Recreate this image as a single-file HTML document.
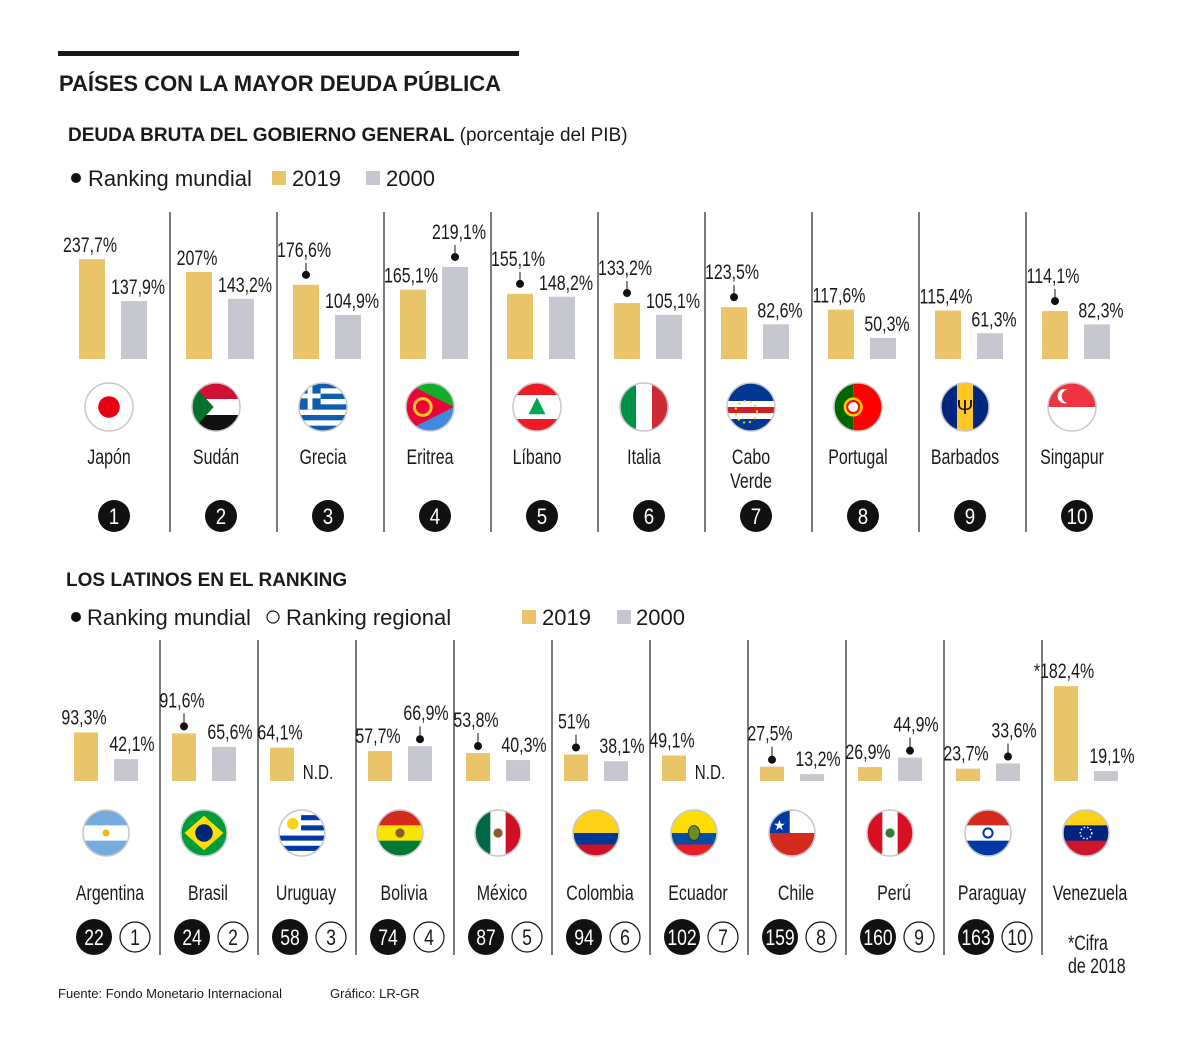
<!DOCTYPE html>
<html><head><meta charset="utf-8"><style>
body{margin:0;background:#fff}
svg text{font-family:"Liberation Sans Narrow","Liberation Sans",sans-serif;fill:#1a1a1a}
.b{font-family:"Liberation Sans",sans-serif;font-weight:bold}
</style></head><body>
<svg id="c" width="1200" height="1051" viewBox="0 0 1200 1051" xmlns="http://www.w3.org/2000/svg">
<rect x="58" y="51" width="461" height="5" fill="#1a1a1a"/>
<text x="59" y="91" class="b" font-size="22">PAÍSES CON LA MAYOR DEUDA PÚBLICA</text>
<text x="68" y="141" font-size="20"><tspan class="b" font-size="19">DEUDA BRUTA DEL GOBIERNO GENERAL</tspan><tspan font-family="Liberation Sans" font-size="19"> (porcentaje del PIB)</tspan></text>
<g>
<circle cx="76" cy="178" r="5" fill="#111"/><text x="88" y="186" font-size="22">Ranking mundial</text>
<rect x="272" y="171" width="14" height="14" fill="#e9c46a"/><text x="292" y="186" font-size="22">2019</text>
<rect x="366" y="171" width="14" height="14" fill="#c7c7cf"/><text x="386" y="186" font-size="22">2000</text>
</g>
<text x="66" y="586" class="b" font-size="19">LOS LATINOS EN EL RANKING</text>
<g>
<circle cx="76" cy="617" r="5" fill="#111"/><text x="87" y="625" font-size="22">Ranking mundial</text>
<circle cx="273" cy="617" r="6" fill="#fff" stroke="#111" stroke-width="1.2"/><text x="286" y="625" font-size="22">Ranking regional</text>
<rect x="522" y="610" width="14" height="14" fill="#e9c46a"/><text x="542" y="625" font-size="22">2019</text>
<rect x="617" y="610" width="14" height="14" fill="#c7c7cf"/><text x="636" y="625" font-size="22">2000</text>
</g>
<text x="58" y="998" font-family="Liberation Sans" font-size="13">Fuente: Fondo Monetario Internacional</text>
<text x="330" y="998" font-family="Liberation Sans" font-size="13">Gráfico: LR-GR</text>
<text transform="translate(1068,950) scale(0.76,1)" font-size="21">*Cifra</text>
<text transform="translate(1068,973) scale(0.76,1)" font-size="21">de 2018</text>
</svg>
<script>
const topNames=["Japón","Sudán","Grecia","Eritrea","Líbano","Italia","Cabo Verde","Portugal","Barbados","Singapur"];
const top2019=[237.7,207,176.6,165.1,155.1,133.2,123.5,117.6,115.4,114.1];
const top2000=[137.9,143.2,104.9,219.1,148.2,105.1,82.6,50.3,61.3,82.3];
const topRank=[1,2,3,4,5,6,7,8,9,10];
const topDot=["","","2019","2000","2019","2019","2019","","","2019"];
const topFlags=["jp","sd","gr","er","lb","it","cv","pt","bb","sg"];
const latNames=["Argentina","Brasil","Uruguay","Bolivia","México","Colombia","Ecuador","Chile","Perú","Paraguay","Venezuela"];
const lat2019=[93.3,91.6,64.1,57.7,53.8,51,49.1,27.5,26.9,23.7,182.4];
const lat2000=[42.1,65.6,null,66.9,40.3,38.1,null,13.2,44.9,33.6,19.1];
const latWorld=[22,24,58,74,87,94,102,159,160,163,null];
const latRegional=[1,2,3,4,5,6,7,8,9,10,null];
const latDot=["","2019","","2000","2019","2019","","2019","2000","2000",""];
const latFlags=["ar","br","uy","bo","mx","co","ec","cl","pe","py","ve"];
const lat2019Labels=["93,3%","91,6%","64,1%","57,7%","53,8%","51%","49,1%","27,5%","26,9%","23,7%","*182,4%"];

const svg=document.getElementById('c');const NS="http://www.w3.org/2000/svg";
function el(t,a,p){const e=document.createElementNS(NS,t);for(const k in a)e.setAttribute(k,a[k]);(p||svg).appendChild(e);return e;}
function fmt(v){return String(v).replace('.',',')+'%';}
let fid=0;
function flag(cx,cy,r,type,g){
  const id='cl'+(fid++);
  const d=el('defs',{},g);const cp=el('clipPath',{id:id},d);el('circle',{cx:cx,cy:cy,r:r},cp);
  const f=el('g',{'clip-path':'url(#'+id+')'},g);
  const x0=cx-r,y0=cy-r,w=2*r;
  const H=(cols)=>{cols.forEach((c,i)=>{const h=w/cols.length;el('rect',{x:x0,y:y0+i*h,width:w,height:h+0.5,fill:c},f);});};
  const V=(cols)=>{cols.forEach((c,i)=>el('rect',{x:x0+i*w/cols.length,y:y0,width:w/cols.length+0.5,height:w,fill:c},f));};
  switch(type){
    case 'jp':H(['#fff']);el('circle',{cx:cx,cy:cy,r:r*0.45,fill:'#e60012'},f);break;
    case 'sd':H(['#d21034','#fff','#111']);el('polygon',{points:`${x0},${y0} ${x0+w*0.45},${cy} ${x0},${y0+w}`,fill:'#007229'},f);break;
    case 'gr':H(['#0d5eaf','#fff','#0d5eaf','#fff','#0d5eaf','#fff','#0d5eaf','#fff','#0d5eaf']);el('rect',{x:x0,y:y0,width:w*0.45,height:w*0.55,fill:'#0d5eaf'},f);el('rect',{x:x0,y:y0+w*0.22,width:w*0.45,height:w*0.1,fill:'#fff'},f);el('rect',{x:x0+w*0.18,y:y0,width:w*0.1,height:w*0.55,fill:'#fff'},f);break;
    case 'er':H(['#12ad2b','#4189dd']);el('polygon',{points:`${x0},${y0} ${x0+w},${cy} ${x0},${y0+w}`,fill:'#ea0437'},f);el('circle',{cx:cx-r*0.3,cy:cy,r:r*0.35,fill:'none',stroke:'#ffc726',"stroke-width":3},f);break;
    case 'lb':H(['#ed1c24','#fff','#fff','#ed1c24']);el('polygon',{points:`${cx},${cy-r*0.4} ${cx+r*0.35},${cy+r*0.3} ${cx-r*0.35},${cy+r*0.3}`,fill:'#00a651'},f);break;
    case 'it':V(['#009246','#fff','#ce2b37']);break;
    case 'cv':H(['#003893','#003893','#003893','#fff','#cf2027','#fff','#003893','#003893']);el('circle',{cx:cx-r*0.2,cy:cy+r*0.2,r:r*0.45,fill:'none',stroke:'#f7d116','stroke-width':2,'stroke-dasharray':'2 4'},f);break;
    case 'pt':el('rect',{x:x0,y:y0,width:w*0.4,height:w,fill:'#006600'},f);el('rect',{x:x0+w*0.4,y:y0,width:w*0.6,height:w,fill:'#ff0000'},f);el('circle',{cx:x0+w*0.4,cy:cy,r:r*0.4,fill:'#ffcc00'},f);el('circle',{cx:x0+w*0.4,cy:cy,r:r*0.25,fill:'#fff',stroke:'#ff0000','stroke-width':2},f);break;
    case 'bb':V(['#00267f','#ffc726','#00267f']);el('text',{x:cx,y:cy+7,'font-size':20,'text-anchor':'middle',style:'fill:#111'},f).textContent='Ψ';break;
    case 'sg':H(['#ef3340','#fff']);el('circle',{cx:cx-r*0.3,cy:cy-r*0.45,r:r*0.3,fill:'#fff'},f);el('circle',{cx:cx-r*0.15,cy:cy-r*0.45,r:r*0.28,fill:'#ef3340'},f);break;
    case 'ar':H(['#74acdf','#fff','#74acdf']);el('circle',{cx:cx,cy:cy,r:r*0.15,fill:'#f6b40e'},f);break;
    case 'br':H(['#009c3b']);el('polygon',{points:`${cx},${cy-r*0.75} ${cx+r*0.85},${cy} ${cx},${cy+r*0.75} ${cx-r*0.85},${cy}`,fill:'#ffdf00'},f);el('circle',{cx:cx,cy:cy,r:r*0.38,fill:'#002776'},f);break;
    case 'uy':H(['#fff','#0038a8','#fff','#0038a8','#fff','#0038a8','#fff','#0038a8','#fff']);el('rect',{x:x0,y:y0,width:w*0.48,height:w*0.55,fill:'#fff'},f);el('circle',{cx:x0+w*0.3,cy:y0+w*0.3,r:r*0.25,fill:'#fcd116'},f);break;
    case 'bo':H(['#d52b1e','#f9e300','#007934']);el('circle',{cx:cx,cy:cy,r:r*0.2,fill:'#8b5a2b'},f);break;
    case 'mx':V(['#006847','#fff','#ce1126']);el('circle',{cx:cx,cy:cy,r:r*0.2,fill:'#8b5a2b'},f);break;
    case 'co':H(['#fcd116','#fcd116','#003893','#ce1126']);break;
    case 'ec':H(['#ffdd00','#ffdd00','#034ea2','#ed1c24']);el('ellipse',{cx:cx,cy:cy,rx:r*0.25,ry:r*0.32,fill:'#6b8e23',stroke:'#333'},f);break;
    case 'cl':H(['#fff','#d52b1e']);el('rect',{x:x0,y:y0,width:w*0.45,height:w*0.5,fill:'#0039a6'},f);el('text',{x:x0+w*0.225,y:cy-3,'font-size':14,'text-anchor':'middle',style:'fill:#fff'},f).textContent='★';break;
    case 'pe':V(['#d91023','#fff','#d91023']);el('circle',{cx:cx,cy:cy,r:r*0.2,fill:'#2e7d32'},f);break;
    case 'py':H(['#d52b1e','#fff','#0038a8']);el('circle',{cx:cx,cy:cy,r:r*0.2,fill:'none',stroke:'#0038a8','stroke-width':2},f);break;
    case 've':H(['#fcd116','#00247d','#cf142b']);el('circle',{cx:cx,cy:cy,r:r*0.25,fill:'none',stroke:'#fff','stroke-width':1.5,'stroke-dasharray':'1.5 2'},f);break;
  }
  el('circle',{cx:cx,cy:cy,r:r,fill:'none',stroke:'#c8c8c8','stroke-width':1.5},g);
}
function label(g,x,y,txt,size,sx){const t=el('text',{transform:`translate(${x},${y}) scale(${sx||0.76},1)`,x:0,y:0,'font-size':size,'text-anchor':'middle'},g);t.textContent=txt;return t;}

// ---- top chart ----
const T={x0:63,colW:107,base:359,k:0.42,lineTop:212,lineBot:532};
function tY(v){return T.base-v*T.k;}
for(let i=0;i<topNames.length;i++){
  const cx=T.x0+i*T.colW;
  const g=el('g',{});
  
  
  if(i>0)el('line',{x1:cx,y1:T.lineTop,x2:cx,y2:T.lineBot,stroke:'#222','stroke-width':1.2},g);
  const bx1=cx+16,bx2=cx+58,bw=26;
  const r1=el('rect',{x:bx1,y:tY(top2019[i]),width:bw,height:top2019[i]*T.k,fill:'#e9c46a'},g);
  
  
  const r2=el('rect',{x:bx2,y:tY(top2000[i]),width:bw,height:top2000[i]*T.k,fill:'#c7c7cf'},g);
  
  
  [[top2019[i],bx1,'2019'],[top2000[i],bx2,'2000']].forEach(([v,bx,yr])=>{
    const ty=tY(v);let ly=ty-7;
    if(topDot[i]===yr){el('line',{x1:bx+bw/2,y1:ty-10,x2:bx+bw/2,y2:ty-22,stroke:'#111'},g);el('circle',{cx:bx+bw/2,cy:ty-10,r:4,fill:'#111'},g);ly=ty-28;}
    label(g,bx+bw/2+(yr==='2000'?4:-2),ly,fmt(v),21);
  });
  const fx=cx+46;
  flag(fx,407,24,topFlags[i],g);
  const nm=topNames[i].split(' ');
  if(nm.length>1){label(g,fx,464,nm[0],21);label(g,fx,488,nm[1],21);}else label(g,fx,464,topNames[i],21);
  el('circle',{cx:fx+5,cy:516,r:16,fill:'#111'},g);
  const rt=label(g,fx+5,524,topRank[i],22,0.85);rt.setAttribute('style','fill:#fff');
}
// ---- bottom chart ----
const B={x0:62,colW:98,base:781,k:0.52,lineTop:640,lineBot:955};
function bY(v){return B.base-v*B.k;}
for(let i=0;i<latNames.length;i++){
  const cx=B.x0+i*B.colW;
  const g=el('g',{});
  
  
  if(i>0)el('line',{x1:cx,y1:B.lineTop,x2:cx,y2:B.lineBot,stroke:'#222','stroke-width':1.2},g);
  const bx1=cx+12,bx2=cx+52,bw=24;
  const r1=el('rect',{x:bx1,y:bY(lat2019[i]),width:bw,height:lat2019[i]*B.k,fill:'#e9c46a'},g);
  
  
  if(lat2000[i]!==null){
    const r2=el('rect',{x:bx2,y:bY(lat2000[i]),width:bw,height:lat2000[i]*B.k,fill:'#c7c7cf'},g);
    
    
  } else label(g,bx2+8,779,'N.D.',20);
  [[lat2019[i],bx1,'2019',lat2019Labels[i]],[lat2000[i],bx2,'2000',null]].forEach(([v,bx,yr,lt])=>{
    if(v===null)return;
    const ty=bY(v);let ly=ty-8;
    if(latDot[i]===yr){el('line',{x1:bx+bw/2,y1:ty-7,x2:bx+bw/2,y2:ty-20,stroke:'#111'},g);el('circle',{cx:bx+bw/2,cy:ty-7,r:4,fill:'#111'},g);ly=ty-26;}
    label(g,bx+bw/2+(yr==='2000'?6:-2),ly,lt||fmt(v),21);
  });
  const fx=cx+44;
  flag(fx,833,23,latFlags[i],g);
  label(g,fx+4,900,latNames[i],21);
  if(latWorld[i]!==null){
    el('circle',{cx:cx+32,cy:937,r:18,fill:'#111'},g);
    const rt=label(g,cx+32,945,latWorld[i],22,0.8);rt.setAttribute('style','fill:#fff');
    el('circle',{cx:cx+73,cy:937,r:15,fill:'#fff',stroke:'#111','stroke-width':1.2},g);
    label(g,cx+73,945,latRegional[i],22,0.8);
  }
}
</script>
</body></html>
